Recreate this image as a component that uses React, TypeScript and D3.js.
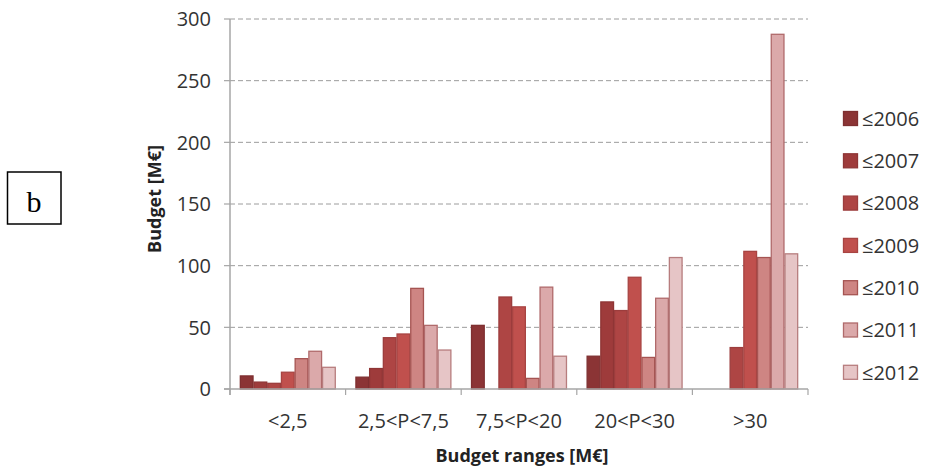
import React from "react";
import * as d3 from "d3";

const categories = ["<2,5", "2,5<P<7,5", "7,5<P<20", "20<P<30", ">30"];
const seriesNames = ["≤2006", "≤2007", "≤2008", "≤2009", "≤2010", "≤2011", "≤2012"];
const s2006 = [11, 10, 52, 27, 0];
const s2007 = [6, 17, 0, 71, 0];
const s2008 = [5, 42, 75, 64, 34];
const s2009 = [14, 45, 67, 91, 112];
const s2010 = [25, 82, 9, 26, 107];
const s2011 = [31, 52, 83, 74, 288];
const s2012 = [18, 32, 27, 107, 110];
const seriesValues = [s2006, s2007, s2008, s2009, s2010, s2011, s2012];
const yTicks = [0, 50, 100, 150, 200, 250, 300];
const fills = ["#8B3435", "#9E3B3B", "#AE4544", "#C0504D", "#CE8583", "#DBA9AA", "#E6C5C6"];
const strokes = ["#7E2F30", "#8E3535", "#9C3D3D", "#A84442", "#A55452", "#B06A6B", "#B77D7E"];

export default function App() {
  const left = 230, right = 808, top = 19, bottom = 389;
  const x0 = d3.scaleBand<string>().domain(categories).range([left, right]).paddingInner(0).paddingOuter(0);
  const bw = x0.bandwidth();
  const x1 = d3.scaleBand<string>().domain(seriesNames).range([bw * 0.085, bw * 0.915]).padding(0);
  const y = d3.scaleLinear().domain([0, 300]).range([bottom, top]);
  const font = "'Open Sans', sans-serif";
  const txt = "#333";
  const boundaries = categories.map((c) => x0(c) as number).concat([right]);

  return (
    <svg width={925} height={470} style={{ position: "absolute", left: 0, top: 0, background: "#fff" }}>
      {/* b box */}
      <rect x={7.5} y={172} width={53.5} height={52} fill="none" stroke="#000" strokeWidth={1.5} />
      <text x={34} y={212} textAnchor="middle" fontFamily="'Liberation Serif', 'DejaVu Serif', serif" fontSize={30} fill="#000">b</text>

      {/* gridlines */}
      {yTicks.filter((t) => t > 0).map((t) => (
        <line key={"g" + t} x1={left} x2={right} y1={y(t)} y2={y(t)} stroke="#9C9C9C" strokeWidth={1} strokeDasharray="5,3" />
      ))}

      {/* bars */}
      {seriesNames.map((s, si) =>
        categories.map((c, ci) => {
          const v = seriesValues[si][ci];
          if (!v) return null;
          const bx = (x0(c) as number) + (x1(s) as number);
          return (
            <rect key={s + c} x={bx + 0.5} y={y(v) + 0.5} width={x1.bandwidth() - 1} height={y(0) - y(v) - 0.5}
              fill={fills[si]} stroke={strokes[si]} strokeWidth={1.3} />
          );
        })
      )}

      {/* axes */}
      <line x1={left} x2={left} y1={top} y2={bottom + 6} stroke="#A6A6A6" strokeWidth={1.5} />
      <line x1={left - 6} x2={right} y1={bottom} y2={bottom} stroke="#A6A6A6" strokeWidth={1.5} />
      {yTicks.map((t) => (
        <g key={"yt" + t}>
          <line x1={left - 6} x2={left} y1={y(t)} y2={y(t)} stroke="#A6A6A6" strokeWidth={1.2} />
          <text x={211} y={y(t)} dy="0.36em" textAnchor="end" fontFamily={font} fontSize={20} fill={txt}>{t}</text>
        </g>
      ))}
      {boundaries.map((bx, i) => (
        <line key={"xt" + i} x1={bx} x2={bx} y1={bottom} y2={bottom + 6} stroke="#A6A6A6" strokeWidth={1.2} />
      ))}
      {categories.map((c) => (
        <text key={"xl" + c} x={(x0(c) as number) + bw / 2} y={428} textAnchor="middle" fontFamily={font} fontSize={20} fill={txt}>{c}</text>
      ))}

      {/* axis titles */}
      <text x={522} y={462} textAnchor="middle" fontFamily={font} fontSize={18} fontWeight="bold" fill="#222">Budget ranges [M€]</text>
      <text transform="translate(161,199) rotate(-90)" textAnchor="middle" fontFamily={font} fontSize={18} fontWeight="bold" fill="#222">Budget [M€]</text>

      {/* legend */}
      {seriesNames.map((s, i) => {
        const cy = 118.5 + i * 42.3;
        return (
          <g key={"lg" + s}>
            <rect x={843.5} y={cy - 7} width={14} height={14} fill={fills[i]} stroke={strokes[i]} strokeWidth={1.3} />
            <text x={862} y={cy} dy="0.36em" fontFamily={font} fontSize={20} fill={txt}>{s}</text>
          </g>
        );
      })}
    </svg>
  );
}
